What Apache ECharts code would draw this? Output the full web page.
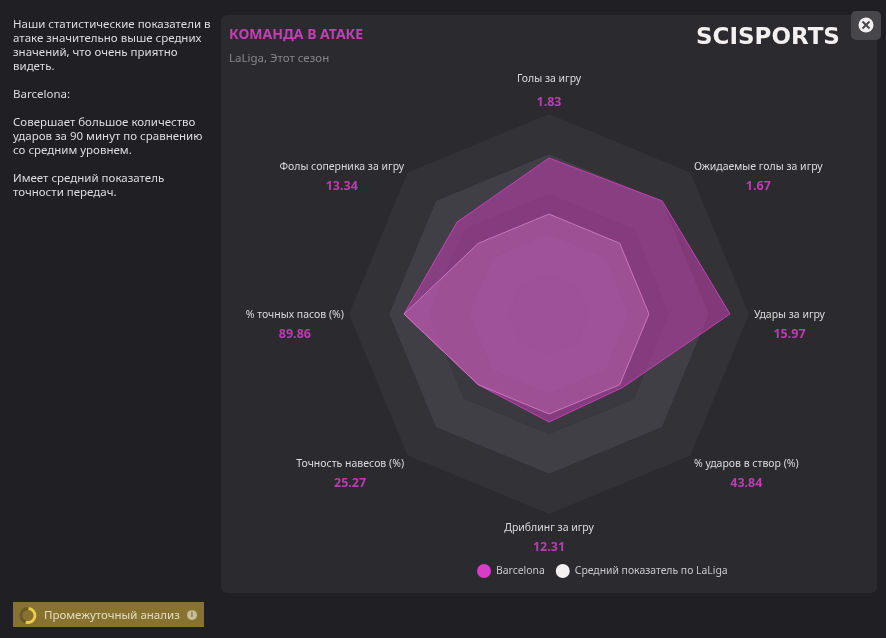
<!DOCTYPE html>
<html lang="ru">
<head>
<meta charset="UTF-8">
<title>Команда в атаке</title>
<script src="https://cdn.jsdelivr.net/npm/echarts@6/dist/echarts.min.js"></script>
<style>
html,body{margin:0;padding:0;background:#201f23}
#chart{width:886px;height:638px}
</style>
</head>
<body>
<div id="chart"></div>
<script>
// counter-clockwise from the top, the way the radar lays them out
var metrics = ['Голы за игру','Фолы соперника за игру','% точных пасов (%)','Точность навесов (%)','Дриблинг за игру','% ударов в створ (%)','Удары за игру','Ожидаемые голы за игру'];
var valueLabels = ['1.83','13.34','89.86','25.27','12.31','43.84','15.97','1.67'];
var barcelona = [78,65,72.5,50,54,52,90.5,80];
var leagueAvg = [50,50,72.5,50,50,50,50,50];
var seriesNames = ['Barcelona','Средний показатель по LaLiga'];
var bands = ['#3d3c42','#413f46','#3a393f','#403f45','#333237'];
var sideText = 'Наши статистические показатели в\nатаке значительно выше средних\nзначений, что очень приятно\nвидеть.\n\nBarcelona:\n\nСовершает большое количество\nударов за 90 минут по сравнению\nсо средним уровнем.\n\nИмеет средний показатель\nточности передач.';

// blank line above a label pushes it down, the names sit lower than the axis ends
var labelSpacer = ['', 's16', 's22', 's30', '', 's30', 's22', 's16'];

var font = '"Noto Sans", sans-serif';
var chart = echarts.init(document.getElementById('chart'));

chart.setOption({
    backgroundColor: '#201f23',
    textStyle: {fontFamily: font},
    animation: false,
    title: {
        text: 'КОМАНДА В АТАКЕ',
        subtext: 'LaLiga, Этот сезон',
        left: 229, top: 28, padding: 0, itemGap: 11,
        textStyle: {color: '#c53fb4', fontSize: 14, fontWeight: 'bold', fontFamily: font},
        subtextStyle: {color: '#87868a', fontSize: 11.5, fontFamily: font}
    },
    legend: {
        data: seriesNames,
        left: 472, top: 559,
        icon: 'circle', itemWidth: 14, itemHeight: 14, itemGap: 11,
        selectedMode: false,
        textStyle: {color: '#c9c8ca', fontSize: 10.4, fontFamily: font, padding: [0,0,0,0]}
    },
    radar: {
        center: [549, 314],
        radius: 200,
        startAngle: 90,
        splitNumber: 5,
        shape: 'polygon',
        axisNameGap: 5,
        indicator: metrics.map(function (m) { return {name: m, min: 0, max: 100}; }),
        axisName: {
            formatter: function (name) {
                var i = metrics.indexOf(name);
                if (i === 0) return '{nt|' + name + '}\n{vt|' + valueLabels[i] + '}';
                var sp = labelSpacer[i] ? '{' + labelSpacer[i] + '| }\n' : '';
                return sp + '{n|' + name + '}\n{v|' + valueLabels[i] + '}';
            },
            rich: {
                s16: {fontSize: 4, lineHeight: 16},
                s22: {fontSize: 4, lineHeight: 22},
                s30: {fontSize: 4, lineHeight: 30},
                n: {color: '#dcdbdc', fontSize: 10.5, lineHeight: 18, align: 'center', fontFamily: font},
                v: {color: '#bb3db0', fontSize: 12.5, fontWeight: 'bold', lineHeight: 20, align: 'center', fontFamily: font},
                nt: {color: '#dcdbdc', fontSize: 10.5, lineHeight: 32, align: 'center', fontFamily: font},
                vt: {color: '#bb3db0', fontSize: 12.5, fontWeight: 'bold', lineHeight: 14, align: 'center', fontFamily: font}
            }
        },
        axisLine: {show: false},
        axisTick: {show: false},
        splitLine: {show: false},
        splitArea: {show: true, areaStyle: {color: bands, opacity: 1}}
    },
    series: [{
        type: 'radar',
        symbol: 'none',
        data: [
            {name: seriesNames[0], value: barcelona,
                itemStyle: {color: '#d83cc8'},
                lineStyle: {color: '#c03fb2', width: 1},
                areaStyle: {color: '#cf40bd', opacity: 0.5}},
            {name: seriesNames[1], value: leagueAvg,
                itemStyle: {color: '#f4f1f1'},
                lineStyle: {color: '#c470bd', width: 1},
                areaStyle: {color: '#ff9ff0', opacity: 0.2}}
        ]
    }],
    graphic: [
        {type: 'rect', z: -10, shape: {x: 221, y: 15, width: 656, height: 578, r: 6}, style: {fill: '#2b2a2e'}},
        {type: 'text', x: 13, y: 18, style: {text: sideText, fill: '#dedddf', font: '11.5px ' + font, lineHeight: 14}},
        // logo
        {type: 'text', x: 696, y: 27, style: {text: 'SCISPORTS', fill: '#f4f0f0', font: 'bold 23px "DejaVu Sans"'}},
        // close button
        {type: 'rect', shape: {x: 851, y: 11, width: 30, height: 29, r: 5}, style: {fill: '#47464b'}},
        {type: 'circle', shape: {cx: 866, cy: 25, r: 7.5}, style: {fill: '#f2f0f0'}},
        {type: 'line', shape: {x1: 862.5, y1: 21.5, x2: 869.5, y2: 28.5}, style: {stroke: '#47464b', lineWidth: 2}},
        {type: 'line', shape: {x1: 869.5, y1: 21.5, x2: 862.5, y2: 28.5}, style: {stroke: '#47464b', lineWidth: 2}},
        // bottom button
        {type: 'rect', shape: {x: 13, y: 602, width: 191, height: 25}, style: {fill: '#88722f'}},
        {type: 'ring', shape: {cx: 28, cy: 615.5, r: 8.5, r0: 5.5}, style: {fill: '#6a5a2a'}},
        {type: 'arc', shape: {cx: 28, cy: 615.5, r: 7, startAngle: -1.5, endAngle: 1.9}, style: {stroke: '#eccb4c', lineWidth: 3, fill: null}},
        {type: 'text', x: 44, y: 610, style: {text: 'Промежуточный анализ', fill: '#e3dcc4', font: '11.5px ' + font}},
        {type: 'circle', shape: {cx: 192, cy: 615, r: 5}, style: {fill: '#c7bd9c'}},
        {type: 'text', x: 192, y: 615, style: {text: 'i', fill: '#88722f', font: 'bold 8px ' + font, align: 'center', verticalAlign: 'middle'}}
    ]
});
</script>
</body>
</html>
